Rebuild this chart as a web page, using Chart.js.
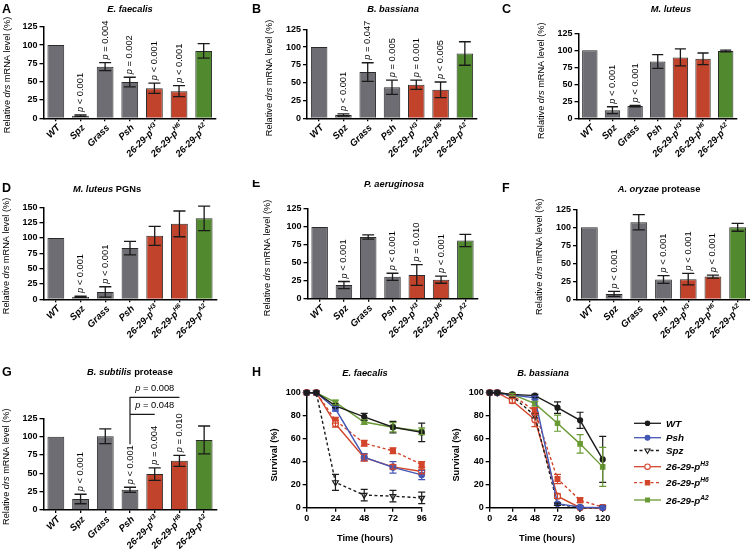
<!DOCTYPE html>
<html>
<head>
<meta charset="utf-8">
<script src="https://cdn.jsdelivr.net/npm/chart.js@4.4.0/dist/chart.umd.min.js"></script>
<style>
  html, body { margin: 0; padding: 0; background: #fff; }
  #fig { position: relative; width: 750px; height: 554px; overflow: hidden; }
  #fig canvas { position: absolute; }
</style>
</head>
<body>
<div id="fig"></div>
<script>
// genotypes on the x axis (superscripts kept apart)
const categories = ["WT", "Spz", "Grass", "Psh", "26-29-p", "26-29-p", "26-29-p"];
const catSup = ["", "", "", "", "H3", "H6", "A2"];

// A - E. faecalis
const efMean = [100, 3.6, 70.5, 49.5, 41, 37, 92];
const efErr = [0, 1, 5.5, 6.5, 7, 7.5, 10];
const efP = [null, "< 0.001", "= 0.004", "= 0.002", "< 0.001", "< 0.001", null];

// B - B. bassiana
const bbMean = [100, 4.7, 65, 43.5, 47, 40, 91];
const bbErr = [0, 1.5, 13, 10, 6.5, 11, 16.5];
const bbP = [null, "< 0.001", "= 0.047", "= 0.005", "= 0.001", "< 0.005", null];

// C - M. luteus
const mlMean = [100, 12, 18, 83.5, 89.5, 87.5, 99];
const mlErr = [0, 5, 1, 10, 12.5, 8.5, 1.2];
const mlP = [null, "< 0.001", "< 0.001", null, null, null, null];

// D - M. luteus PGNs
const pgnMean = [100, 4.3, 12, 83.5, 103.5, 123, 132];
const pgnErr = [0, 1, 8.5, 11, 15.5, 21, 20];
const pgnP = [null, "< 0.001", "< 0.001", null, null, null, null];

// E - P. aeruginosa
const paMean = [100, 19, 86, 30.5, 33, 26.5, 81];
const paErr = [0, 5, 3, 5, 14.5, 5, 8.5];
const paP = [null, "< 0.001", null, "< 0.001", "= 0.010", "< 0.001", null];

// F - A. oryzae protease
const aoMean = [100, 7.5, 107, 27.5, 28, 31.5, 100];
const aoErr = [0, 3.5, 10.5, 5.5, 8, 2, 5.5];
const aoP = [null, "< 0.001", null, "< 0.001", "< 0.001", "< 0.001", null];

// G - B. subtilis protease
const bsMean = [100, 15, 100.5, 27.5, 49, 67, 95.5];
const bsErr = [0, 6.5, 10, 3.5, 8.5, 7.5, 19];
const bsP = [null, "< 0.001", null, "< 0.001", "= 0.004", "= 0.010", null];
const bsBracketP = ["= 0.008", "= 0.048"];

// H - survival, E. faecalis
const efHours = [0, 8, 24, 48, 72, 96];
const efSurvWT = [100, 100, 88.5, 79, 70, 65.5];
const efSurvWTErr = [0, 0, 1.5, 3, 5, 8];
const efSurvPsh = [100, 100, 86, 44, 35, 28.5];
const efSurvPshErr = [0, 0, 2, 3, 5, 4];
const efSurvSpz = [100, 100, 22, 11, 10, 8.5];
const efSurvSpzErr = [0, 0, 7, 5, 5, 5];
const efSurvH3 = [100, 100, 73, 43.5, 35.5, 31.5];
const efSurvH3Err = [0, 0, 3, 3, 2, 2];
const efSurvH6 = [100, 100, 76, 56, 49.5, 37.5];
const efSurvH6Err = [0, 0, 2.5, 2.5, 2.5, 2.5];
const efSurvA2 = [100, 100, 91.5, 74.5, 70, 66.5];
const efSurvA2Err = [0, 0, 2, 2, 4, 3];

// H - survival, B. bassiana
const bbHours = [0, 8, 24, 48, 72, 96, 120];
const bbSurvWT = [100, 100, 98.5, 97.5, 87, 76, 42];
const bbSurvWTErr = [0, 0, 1, 1, 5, 7, 20];
const bbSurvPsh = [100, 100, 98, 95.5, 3.5, 0.5, 0];
const bbSurvPshErr = [0, 0, 1, 1.5, 1, 0.5, 0];
const bbSurvSpz = [100, 100, 97, 80, 3, 0, 0];
const bbSurvSpzErr = [0, 0, 1, 2, 1, 0, 0];
const bbSurvH3 = [100, 100, 93, 76.5, 10, 0, 0];
const bbSurvH3Err = [0, 0, 2, 6, 2, 0, 0];
const bbSurvH6 = [100, 100, 98, 84, 25, 6.5, 0.5];
const bbSurvH6Err = [0, 0, 1, 3, 4, 2, 0];
const bbSurvA2 = [100, 100, 98.5, 90.5, 73.5, 55.5, 35.5];
const bbSurvA2Err = [0, 0, 1, 2, 7, 8, 17];

const FAM = '"Liberation Sans", Arial, Helvetica, sans-serif';
const barFill = ["#6e6d73", "#6e6d73", "#6e6d73", "#6e6d73", "#c1432b", "#c1432b", "#50892e"];
const lineStyles = [
  { color: "#1c1c1c", dash: [], point: "circle", fill: "#1c1c1c", r: 2.5, rot: 0 },
  { color: "#4357b5", dash: [], point: "circle", fill: "#4357b5", r: 2.7, rot: 0 },
  { color: "#1c1c1c", dash: [3, 2.5], point: "triangle", fill: "#fff", r: 3.3, rot: 180 },
  { color: "#d2452b", dash: [], point: "circle", fill: "#fff", r: 3, rot: 0 },
  { color: "#d2452b", dash: [3, 2.5], point: "rect", fill: "#d2452b", r: 3.4, rot: 0 },
  { color: "#6a9a35", dash: [], point: "rect", fill: "#6a9a35", r: 3.1, rot: 0 }
];
const fig = document.getElementById("fig");

function addCanvas(box) {
  const c = document.createElement("canvas");
  c.width = box[2]; c.height = box[3];
  c.style.left = box[0] + "px"; c.style.top = box[1] + "px";
  c.style.width = box[2] + "px"; c.style.height = box[3] + "px";
  fig.appendChild(c);
  return c;
}

// parts: [text, style, superscript?]
function richWidth(ctx, parts, size) {
  let w = 0;
  parts.forEach(p => {
    ctx.font = `${p[1] || "normal"} ${p[2] ? size * 0.68 : size}px ${FAM}`;
    w += ctx.measureText(p[0]).width;
  });
  return w;
}
function drawRich(ctx, parts, x, y, size, align) {
  const w = richWidth(ctx, parts, size);
  let cx = align === "center" ? x - w / 2 : align === "right" ? x - w : x;
  ctx.textAlign = "left";
  parts.forEach(p => {
    const s = p[2] ? size * 0.68 : size;
    ctx.font = `${p[1] || "normal"} ${s}px ${FAM}`;
    ctx.fillText(p[0], cx, p[2] ? y - size * 0.4 : y);
    cx += ctx.measureText(p[0]).width;
  });
}
function drawVertical(ctx, parts, x, y, size) {
  ctx.save();
  ctx.translate(x, y);
  ctx.rotate(-Math.PI / 2);
  ctx.textBaseline = "middle";
  drawRich(ctx, parts, 0, 0, size, "center");
  ctx.restore();
}

const axisFont = { family: FAM, size: 9, weight: "bold" };
function axisGrid(len) {
  return { display: true, drawOnChartArea: false, offset: false, tickLength: len, color: "#000", lineWidth: 1.3 };
}
const axisBorder = { display: true, color: "#000", width: 1.5 };

function barPanel(o) {
  const [bx, by, bw, bh] = o.box;
  const [l, t, r, b] = o.area;
  const canvas = addCanvas(o.box);
  return new Chart(canvas, {
    type: "bar",
    data: {
      labels: categories.map((c, i) => c + catSup[i]),
      datasets: [{
        data: o.mean,
        backgroundColor: barFill,
        borderColor: "#2b2b2b",
        borderWidth: 1,
        barPercentage: 0.68,
        categoryPercentage: 1
      }]
    },
    options: {
      responsive: false,
      animation: false,
      devicePixelRatio: 1,
      layout: { padding: { left: 0, top: t - by, right: bx + bw - r, bottom: 0 } },
      plugins: { legend: { display: false }, tooltip: { enabled: false } },
      scales: {
        x: {
          grid: axisGrid(3),
          border: axisBorder,
          ticks: { display: false },
          afterFit: s => { s.height = by + bh - b; }
        },
        y: {
          min: 0, max: o.max,
          ticks: { stepSize: 25, color: "#000", font: axisFont, padding: 2 },
          grid: axisGrid(4),
          border: axisBorder,
          afterFit: s => { s.width = l - bx; }
        }
      }
    },
    plugins: [{
      id: "extras",
      afterDraw(chart) {
        const ctx = chart.ctx, xs = chart.scales.x, ys = chart.scales.y;
        const meta = chart.getDatasetMeta(0);
        ctx.save();
        // error bars
        ctx.strokeStyle = "#1a1a1a";
        ctx.lineWidth = 1.3;
        meta.data.forEach((bar, i) => {
          const e = o.err[i];
          if (!e) return;
          const yt = ys.getPixelForValue(o.mean[i] + e);
          const yb = ys.getPixelForValue(o.mean[i] - e);
          const hw = bar.width * 0.36;
          ctx.beginPath();
          ctx.moveTo(bar.x, yt); ctx.lineTo(bar.x, yb);
          ctx.moveTo(bar.x - hw, yt); ctx.lineTo(bar.x + hw, yt);
          ctx.moveTo(bar.x - hw, yb); ctx.lineTo(bar.x + hw, yb);
          ctx.stroke();
        });
        // p values
        ctx.fillStyle = "#000";
        ctx.textBaseline = "middle";
        o.p.forEach((p, i) => {
          if (!p) return;
          const top = ys.getPixelForValue(o.mean[i] + o.err[i]);
          ctx.save();
          ctx.translate(meta.data[i].x, top - 3);
          ctx.rotate(-Math.PI / 2);
          drawRich(ctx, [["p", "italic"], [" " + p, "normal"]], 0, 0, 9.3, "left");
          ctx.restore();
        });
        // x labels, rotated 45 degrees
        categories.forEach((c, i) => {
          const x = xs.getPixelForValue(i);
          const parts = [[c, "bold italic"]];
          if (catSup[i]) parts.push([catSup[i], "bold italic", true]);
          ctx.save();
          ctx.translate(x + 3, ys.bottom + 8);
          ctx.rotate(-Math.PI / 4);
          drawRich(ctx, parts, 0, 0, 9.5, "right");
          ctx.restore();
        });
        if (o.extra) o.extra(ctx, chart);
        // panel texts in page coordinates
        ctx.translate(-bx, -by);
        ctx.textBaseline = "alphabetic";
        drawRich(ctx, [[o.letter, "bold"]], o.letterPos[0], o.letterPos[1], 12.5, "left");
        drawRich(ctx, o.title, o.titlePos[0], o.titlePos[1], 9.3, "center");
        drawVertical(ctx, [["Relative ", "normal"], ["drs", "italic"], [" mRNA level (%)", "normal"]],
          o.yTitlePos[0], o.yTitlePos[1], 9.2);
        ctx.restore();
      }
    }]
  });
}

barPanel({ box: [0, 0, 250, 180], area: [43.5, 26.7, 216, 118.3], max: 125,
  mean: efMean, err: efErr, p: efP, letter: "A", letterPos: [2, 12.7],
  title: [["E. faecalis", "bold italic"]], titlePos: [130, 11.7], yTitlePos: [7.5, 75] });
barPanel({ box: [250, 0, 250, 180], area: [307, 29.3, 477, 118.3], max: 125,
  mean: bbMean, err: bbErr, p: bbP, letter: "B", letterPos: [252, 12.7],
  title: [["B. bassiana", "bold italic"]], titlePos: [393, 11.7], yTitlePos: [269, 78] });
barPanel({ box: [500, 0, 250, 180], area: [578.5, 33.3, 737, 118.3], max: 125,
  mean: mlMean, err: mlErr, p: mlP, letter: "C", letterPos: [502, 12.7],
  title: [["M. luteus", "bold italic"]], titlePos: [671, 11.7], yTitlePos: [541.7, 80.7] });
barPanel({ box: [0, 180, 250, 185], area: [43.5, 207.3, 216.5, 299.3], max: 150,
  mean: pgnMean, err: pgnErr, p: pgnP, letter: "D", letterPos: [2, 191.7],
  title: [["M. luteus", "bold italic"], [" PGNs", "bold"]], titlePos: [107, 191.7], yTitlePos: [6.7, 256] });
barPanel({ box: [250, 180, 250, 185], area: [307.5, 209, 477.5, 298.7], max: 125,
  mean: paMean, err: paErr, p: paP, letter: "E", letterPos: [252, 186.5],
  title: [["P. aeruginosa", "bold italic"]], titlePos: [394, 186.7], yTitlePos: [267.3, 258] });
barPanel({ box: [500, 180, 250, 185], area: [577, 209.3, 750, 299.3], max: 125,
  mean: aoMean, err: aoErr, p: aoP, letter: "F", letterPos: [502, 191.7],
  title: [["A. oryzae", "bold italic"], [" protease", "bold"]], titlePos: [659, 191.7], yTitlePos: [539.7, 256.7] });
barPanel({ box: [0, 365, 250, 189], area: [43.5, 418.3, 216.5, 510], max: 125,
  mean: bsMean, err: bsErr, p: bsP, letter: "G", letterPos: [2, 375.7],
  title: [["B. subtilis", "bold italic"], [" protease", "bold"]], titlePos: [130, 375], yTitlePos: [6, 466.7],
  extra(ctx, chart) {
    const xs = chart.scales.x, top = chart.chartArea.top;
    const xP = xs.getPixelForValue(3), x3 = xs.getPixelForValue(4), x6 = xs.getPixelForValue(5);
    ctx.strokeStyle = "#1a1a1a";
    ctx.lineWidth = 1.2;
    ctx.beginPath();
    ctx.moveTo(x6, top - 21); ctx.lineTo(xP, top - 21); ctx.lineTo(xP, top + 26);
    ctx.moveTo(xP, top - 4); ctx.lineTo(x3, top - 4);
    ctx.stroke();
    ctx.textBaseline = "alphabetic";
    drawRich(ctx, [["p", "italic"], [" " + bsBracketP[0], "normal"]], (xP + x6) / 2, top - 27.3, 9.3, "center");
    drawRich(ctx, [["p", "italic"], [" " + bsBracketP[1], "normal"]], (xP + x6) / 2, top - 10, 9.3, "center");
  }
});

const survLabels = ["WT", "Psh", "Spz", "26-29-p", "26-29-p", "26-29-p"];
const survSup = ["", "", "", "H3", "H6", "A2"];

function survivalPanel(o) {
  const [bx, by, bw, bh] = o.box;
  const [l, t, r, b] = o.area;
  const canvas = addCanvas(o.box);
  const datasets = o.series.map((vals, k) => {
    const st = lineStyles[k];
    return {
      data: o.hours.map((h, i) => ({ x: h, y: vals[i] })),
      borderColor: st.color,
      borderWidth: 1.4,
      borderDash: st.dash,
      pointStyle: st.point,
      pointRotation: st.rot,
      pointRadius: st.r,
      pointBorderWidth: 1.2,
      pointBorderColor: st.color,
      pointBackgroundColor: st.fill,
      tension: 0,
      clip: false
    };
  });
  return new Chart(canvas, {
    type: "line",
    data: { datasets },
    options: {
      responsive: false,
      animation: false,
      devicePixelRatio: 1,
      layout: { padding: { left: 0, top: t - by, right: bx + bw - r, bottom: 0 } },
      plugins: { legend: { display: false }, tooltip: { enabled: false } },
      scales: {
        x: {
          type: "linear", min: 0, max: o.maxX,
          ticks: { stepSize: 24, color: "#000", font: axisFont, padding: 1 },
          grid: axisGrid(4),
          border: axisBorder,
          afterFit: s => { s.height = by + bh - b; }
        },
        y: {
          min: 0, max: 100,
          ticks: { stepSize: 20, color: "#000", font: axisFont, padding: 2 },
          grid: axisGrid(4),
          border: axisBorder,
          afterFit: s => { s.width = l - bx; }
        }
      }
    },
    plugins: [{
      id: "survExtras",
      afterDatasetsDraw(chart) {
        const ctx = chart.ctx, ys = chart.scales.y;
        ctx.save();
        ctx.lineWidth = 1.2;
        o.errs.forEach((errs, k) => {
          const meta = chart.getDatasetMeta(k);
          ctx.strokeStyle = lineStyles[k].color;
          meta.data.forEach((pt, i) => {
            const e = errs[i];
            if (!e) return;
            const v = o.series[k][i];
            const yt = ys.getPixelForValue(Math.min(100, v + e));
            const yb = ys.getPixelForValue(Math.max(0, v - e));
            ctx.beginPath();
            ctx.moveTo(pt.x, yt); ctx.lineTo(pt.x, yb);
            ctx.moveTo(pt.x - 3.5, yt); ctx.lineTo(pt.x + 3.5, yt);
            ctx.moveTo(pt.x - 3.5, yb); ctx.lineTo(pt.x + 3.5, yb);
            ctx.stroke();
          });
        });
        ctx.restore();
      },
      afterDraw(chart) {
        const ctx = chart.ctx;
        ctx.save();
        ctx.translate(-bx, -by);
        ctx.fillStyle = "#000";
        ctx.textBaseline = "alphabetic";
        if (o.letter) drawRich(ctx, [[o.letter, "bold"]], o.letterPos[0], o.letterPos[1], 12.5, "left");
        drawRich(ctx, [[o.title, "bold italic"]], o.titlePos[0], o.titlePos[1], 9.3, "center");
        drawRich(ctx, [["Time (hours)", "bold"]], o.xTitlePos[0], o.xTitlePos[1], 9.3, "center");
        drawVertical(ctx, [["Survival (%)", "bold"]], o.yTitlePos[0], o.yTitlePos[1], 9.3);
        if (o.legend) {
          const rows = [423.3, 437.7, 450.5, 466.7, 482.7, 500];
          lineStyles.forEach((st, k) => {
            const y = rows[k];
            ctx.save();
            ctx.strokeStyle = st.color;
            ctx.lineWidth = 1.3;
            ctx.setLineDash(st.dash);
            ctx.beginPath(); ctx.moveTo(634, y); ctx.lineTo(661, y); ctx.stroke();
            ctx.setLineDash([]);
            ctx.fillStyle = st.fill;
            ctx.lineWidth = 1.1;
            if (Chart.helpers && Chart.helpers.drawPoint) {
              Chart.helpers.drawPoint(ctx, { pointStyle: st.point, rotation: st.rot, radius: st.r * 0.9, borderWidth: 1.1 }, 647.5, y);
            } else {
              ctx.beginPath(); ctx.arc(647.5, y, st.r, 0, Math.PI * 2); ctx.fill(); ctx.stroke();
            }
            ctx.restore();
            const parts = [[survLabels[k], "bold italic"]];
            if (survSup[k]) parts.push([survSup[k], "bold italic", true]);
            ctx.fillStyle = "#000";
            drawRich(ctx, parts, 666, y + 3.5, 9.8, "left");
          });
        }
        ctx.restore();
      }
    }]
  });
}

survivalPanel({ box: [250, 365, 190, 189], area: [306.7, 392.7, 421.7, 507.7], maxX: 96,
  hours: efHours,
  series: [efSurvWT, efSurvPsh, efSurvSpz, efSurvH3, efSurvH6, efSurvA2],
  errs: [efSurvWTErr, efSurvPshErr, efSurvSpzErr, efSurvH3Err, efSurvH6Err, efSurvA2Err],
  letter: "H", letterPos: [252, 375.7], title: "E. faecalis", titlePos: [365, 375.7],
  xTitlePos: [365, 541], yTitlePos: [274, 455] });
survivalPanel({ box: [440, 365, 310, 189], area: [489.7, 392.7, 602.7, 507.7], maxX: 120,
  hours: bbHours,
  series: [bbSurvWT, bbSurvPsh, bbSurvSpz, bbSurvH3, bbSurvH6, bbSurvA2],
  errs: [bbSurvWTErr, bbSurvPshErr, bbSurvSpzErr, bbSurvH3Err, bbSurvH6Err, bbSurvA2Err],
  title: "B. bassiana", titlePos: [543, 375.7],
  xTitlePos: [547, 541], yTitlePos: [456.3, 455], legend: true });
</script>
</body>
</html>
